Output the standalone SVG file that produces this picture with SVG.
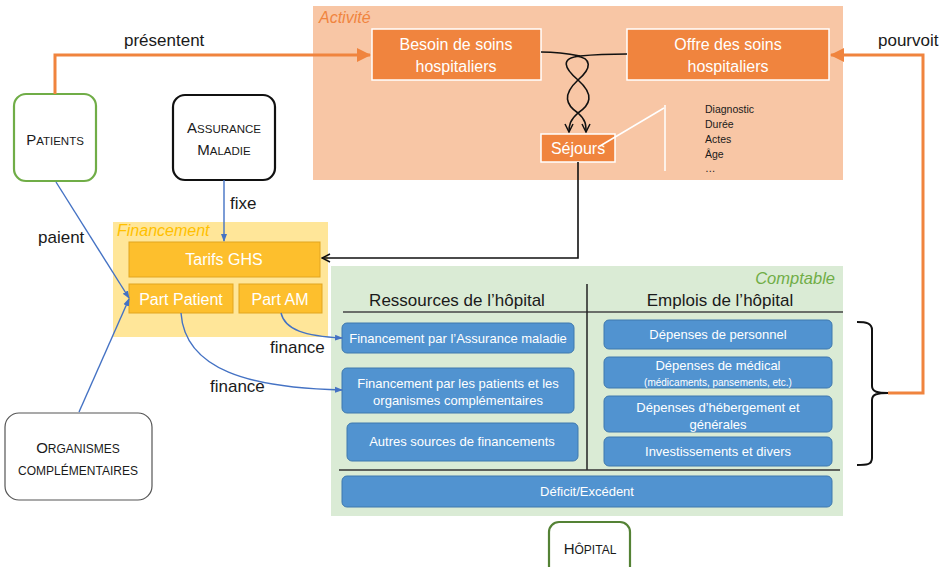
<svg xmlns="http://www.w3.org/2000/svg" width="948" height="567" viewBox="0 0 948 567">
<defs>
<style>
text{font-family:"Liberation Sans",Arial,sans-serif;}
.w{fill:#fff;font-size:16px;text-anchor:middle;}
.ws{fill:#fff;font-size:13px;text-anchor:middle;}
.k{fill:#1a1a1a;font-size:17px;}
.c{text-anchor:middle;fill:#1a1a1a;}
.orb{fill:#F0843E;stroke:#fff;stroke-width:1.5;}
.yb{fill:#FDBF2D;stroke:#E2A520;stroke-width:1;}
.bb{fill:#5193D0;stroke:#3E78AE;stroke-width:1;}
.blue{fill:none;stroke:#4472C4;stroke-width:1.4;}
.org{fill:none;stroke:#F0843E;stroke-width:3;}
.blk{fill:none;stroke:#111;stroke-width:1.6;}
.at{fill:#1a1a1a;font-size:10.5px;}
</style>
<marker id="ab" markerWidth="8" markerHeight="8" refX="7" refY="4" orient="auto" markerUnits="userSpaceOnUse"><path d="M0,1 L8,4 L0,7 z" fill="#4472C4"/></marker>
<marker id="ao" markerWidth="14" markerHeight="14" refX="13" refY="7" orient="auto" markerUnits="userSpaceOnUse"><path d="M0,0 L14,7 L0,14 z" fill="#F0843E"/></marker>
<marker id="ak" markerWidth="10" markerHeight="10" refX="9" refY="5" orient="auto" markerUnits="userSpaceOnUse"><path d="M1,1 L9,5 L1,9" fill="none" stroke="#111" stroke-width="1.5"/></marker>
</defs>

<!-- regions -->
<g id="activite">
<rect x="313" y="6" width="530" height="174" fill="#F8C6A5"/>
<text x="319" y="23" fill="#F0843E" font-size="16" font-style="italic">Activité</text>
</g>
<g id="financement">
<rect x="113" y="222" width="215" height="115" fill="#FFE699"/>
<text x="117" y="236" fill="#FFC000" font-size="16" font-style="italic">Financement</text>
</g>
<g id="comptable">
<rect x="331" y="266" width="512" height="250" fill="#DAEBD5"/>
<text x="835" y="284" fill="#70AD47" font-size="16.5" font-style="italic" text-anchor="end">Comptable</text>
<text x="457" y="306" class="k" font-size="17.5" text-anchor="middle">Ressources de l’hôpital</text>
<text x="720" y="306" class="k" font-size="17.5" text-anchor="middle">Emplois de l’hôpital</text>
<line x1="343" y1="312" x2="843" y2="312" stroke="#444" stroke-width="1.5"/>
<line x1="587" y1="284" x2="587" y2="470" stroke="#222" stroke-width="1.5"/>
<line x1="339" y1="470" x2="840" y2="470" stroke="#333" stroke-width="1.5"/>
</g>

<!-- nodes -->
<g id="besoin"><rect class="orb" x="372" y="29" width="169" height="51"/><text class="w" x="456" y="50">Besoin de soins</text><text class="w" x="456" y="72">hospitaliers</text></g>
<g id="offre"><rect class="orb" x="627" y="29" width="202" height="51"/><text class="w" x="728" y="50">Offre des soins</text><text class="w" x="728" y="72">hospitaliers</text></g>
<g id="sejours"><rect class="orb" x="541" y="134" width="74" height="28"/><text class="w" x="578" y="154" font-size="17">Séjours</text></g>
<g id="sejours-attr">
<line x1="600" y1="146" x2="664" y2="108" stroke="#fff" stroke-width="1.5"/>
<line x1="665" y1="105" x2="665" y2="171" stroke="#fff" stroke-width="1.5"/>
<text x="705" y="113" class="at">Diagnostic</text>
<text x="705" y="128" class="at">Durée</text>
<text x="705" y="143" class="at">Actes</text>
<text x="705" y="158" class="at">Âge</text>
<text x="705" y="172" class="at">…</text>
</g>

<g id="patients"><rect x="14" y="94" width="82" height="87" rx="12" fill="#fff" stroke="#70AD47" stroke-width="2.2"/>
<text class="c" x="55" y="145" font-size="15">P<tspan font-size="11.5">ATIENTS</tspan></text></g>
<g id="assurance"><rect x="173" y="95" width="102" height="85" rx="12" fill="#fff" stroke="#111" stroke-width="2.2"/>
<text class="c" x="224" y="133" font-size="15">A<tspan font-size="11.5">SSURANCE</tspan></text>
<text class="c" x="224" y="155" font-size="15">M<tspan font-size="11.5">ALADIE</tspan></text></g>
<g id="organismes"><rect x="5" y="413" width="147" height="87" rx="14" fill="#fff" stroke="#555" stroke-width="1.2"/>
<text class="c" x="78" y="453" font-size="15">O<tspan font-size="12">RGANISMES</tspan></text>
<text class="c" x="78" y="475" font-size="12">COMPLÉMENTAIRES</text></g>
<g id="hopital"><rect x="549" y="522" width="81" height="56" rx="10" fill="#fff" stroke="#548235" stroke-width="2.2"/>
<text class="c" x="590" y="554" font-size="15">H<tspan font-size="12">ÔPITAL</tspan></text></g>

<g id="tarifs"><rect class="yb" x="129" y="242" width="191" height="35"/><text class="w" x="224" y="265">Tarifs GHS</text></g>
<g id="partpatient"><rect class="yb" x="129" y="284" width="104" height="29"/><text class="w" x="181" y="305" font-size="17">Part Patient</text></g>
<g id="partam"><rect class="yb" x="239" y="284" width="83" height="29"/><text class="w" x="280" y="305" font-size="17">Part AM</text></g>

<g id="fin-am"><rect class="bb" x="342" y="323" width="232" height="30" rx="5"/><text class="ws" x="458" y="343">Financement par l’Assurance maladie</text></g>
<g id="fin-pat"><rect class="bb" x="342" y="368" width="232" height="45" rx="5"/><text class="ws" x="458" y="388">Financement par les patients et les</text><text class="ws" x="458" y="405">organismes complémentaires</text></g>
<g id="autres"><rect class="bb" x="347" y="423" width="231" height="38" rx="5"/><text class="ws" x="462" y="446">Autres sources de financements</text></g>
<g id="dep-pers"><rect class="bb" x="604" y="320" width="228" height="29" rx="5"/><text class="ws" x="718" y="339">Dépenses de personnel</text></g>
<g id="dep-med"><rect class="bb" x="604" y="357" width="228" height="31" rx="5"/><text class="ws" x="718" y="370">Dépenses de médical</text><text x="718" y="386" fill="#fff" font-size="10" text-anchor="middle">(médicaments, pansements, etc.)</text></g>
<g id="dep-heb"><rect class="bb" x="604" y="396" width="228" height="36" rx="5"/><text class="ws" x="718" y="412">Dépenses d’hébergement et</text><text class="ws" x="718" y="429">générales</text></g>
<g id="invest"><rect class="bb" x="604" y="437" width="228" height="29" rx="5"/><text class="ws" x="718" y="456">Investissements et divers</text></g>
<g id="deficit"><rect class="bb" x="342" y="476" width="490" height="31" rx="5"/><text class="ws" x="587" y="496">Déficit/Excédent</text></g>

<g id="brace"><path d="M857,322 C866,322 872,323 872,330 L872,386 C872,392 878,393 888,393 C878,393 872,394 872,400 L872,458 C872,465 866,465 857,465" fill="none" stroke="#111" stroke-width="2"/></g>

<!-- connectors -->
<g id="connectors">
<path class="org" d="M55,94 L55,55 L370,55" marker-end="url(#ao)"/>
<path class="org" d="M888,393 L923,393 L923,55 L831,55" marker-end="url(#ao)"/>
<path class="blk" d="M541,52 C560,52 575,55 580,56 C600,54 615,54 627,54"/>
<path class="blk" d="M580,56 C560,58 564,68 578,80 C595,95 590,105 578,113 C570,120 569,125 569,132" marker-end="url(#ak)"/>
<path class="blk" d="M576,56 C592,58 592,68 578,80 C562,95 566,105 578,113 C586,120 586,125 586,132" marker-end="url(#ak)"/>
<path class="blk" d="M578,162 L578,258 L322,258" marker-end="url(#ak)"/>
<path class="blue" d="M224,180 L224,241" marker-end="url(#ab)"/>
<path class="blue" d="M56,182 L129,298" marker-end="url(#ab)"/>
<path class="blue" d="M79,412 L129,299" marker-end="url(#ab)"/>
<path class="blue" d="M281,313 C285,330 305,336 342,338" marker-end="url(#ab)"/>
<path class="blue" d="M181,313 C185,370 250,388 342,390" marker-end="url(#ab)"/>
</g>
<g id="labels">
<text class="k" x="124" y="46">présentent</text>
<text class="k" x="878" y="46">pourvoit</text>
<text class="k" x="230" y="209">fixe</text>
<text class="k" x="38" y="243">paient</text>
<text class="k" x="270" y="353">finance</text>
<text class="k" x="210" y="392">finance</text>
</g>
</svg>
